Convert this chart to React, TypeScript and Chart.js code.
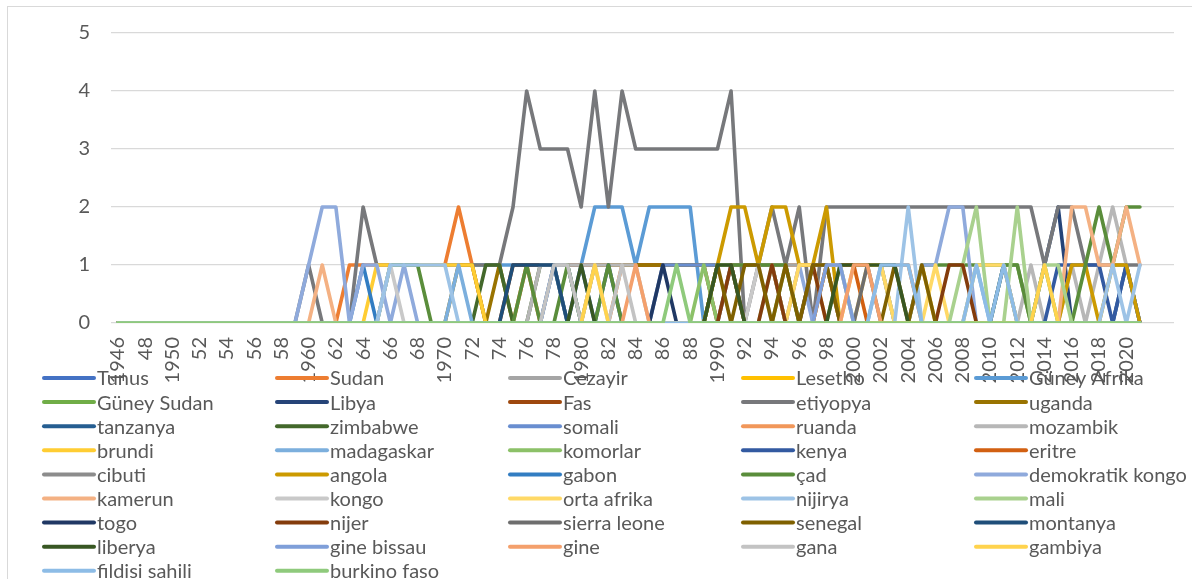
import React, { useEffect, useRef } from 'react';
import { Chart, registerables } from 'chart.js';

Chart.register(...registerables);

// Category labels (1946..2021 plus two empty slots at the end of the axis)
const yearLabels = [
  '1946', '47', '48', '49',
  '1950', '51', '52', '53', '54', '55', '56', '57', '58', '59',
  '1960', '61', '62', '63', '64', '65', '66', '67', '68', '69',
  '1970', '71', '72', '73', '74', '75', '76', '77', '78', '79',
  '1980', '81', '82', '83', '84', '85', '86', '87', '88', '89',
  '1990', '91', '92', '93', '94', '95', '96', '97', '98', '99',
  '2000', '2001', '2002', '2003', '2004', '2005', '2006', '2007', '2008', '2009',
  '2010', '2011', '2012', '2013', '2014', '2015', '2016', '2017', '2018', '2019',
  '2020', '2021', '', '',
];

const yTicks = [0, 1, 2, 3, 4, 5];

// Series values, 1946..2021 (decade groups)
const tunus = [0,0,0,0,0,0,0,0,0,0,0,0,0,0, 0,0,0,0,0,0,0,0,0,0, 0,0,0,0,0,0,0,0,0,0, 1,0,0,0,0,0,0,0,0,0, 0,0,0,0,0,0,0,0,0,0, 0,0,0,0,0,0,0,0,0,0, 0,0,0,0,0,0,0,0,0,0, 0,0];
const sudan = [0,0,0,0,0,0,0,0,0,0,0,0,0,0, 0,0,0,1,1,1,1,1,1,1, 1,2,1,0,0,0,1,0,0,0, 0,0,0,1,1,1,1,1,1,1, 1,1,1,1,1,1,1,1,1,1, 1,1,1,1,1,0,0,0,0,0, 0,0,0,0,0,0,0,0,0,0, 0,0];
const cezayir = [0,0,0,0,0,0,0,0,0,0,0,0,0,0, 0,0,0,0,0,0,0,0,0,0, 0,0,0,0,0,0,0,0,0,0, 0,0,0,0,0,0,0,0,0,0, 0,1,1,1,1,1,1,1,1,1, 1,1,1,0,0,0,0,0,0,0, 0,0,0,0,0,0,0,0,0,0, 0,0];
const lesetho = [0,0,0,0,0,0,0,0,0,0,0,0,0,0, 0,0,0,0,0,0,0,0,0,0, 0,0,0,0,0,0,0,0,0,0, 0,0,0,0,0,0,0,0,0,0, 0,0,0,0,0,0,0,0,1,0, 0,0,0,0,0,0,0,0,0,0, 0,0,0,0,0,0,0,0,0,0, 0,0];
const guneyAfrika = [0,0,0,0,0,0,0,0,0,0,0,0,0,0, 0,0,0,0,0,0,1,1,1,1, 1,1,1,1,1,1,1,1,1,1, 1,2,2,2,1,2,2,2,2,0, 0,0,0,0,0,0,0,0,0,0, 0,0,0,0,0,0,0,0,0,0, 0,0,0,0,0,0,0,0,0,0, 0,0];
const guneySudan = [0,0,0,0,0,0,0,0,0,0,0,0,0,0, 0,0,0,0,0,0,0,0,0,0, 0,0,0,0,0,0,0,0,0,0, 0,0,0,0,0,0,0,0,0,0, 0,0,0,0,0,0,0,0,0,0, 0,0,0,0,0,0,0,0,0,0, 0,1,1,0,1,0,0,0,0,0, 0,0];
const libya = [0,0,0,0,0,0,0,0,0,0,0,0,0,0, 0,0,0,0,0,0,0,0,0,0, 0,0,0,0,0,0,0,0,0,0, 0,0,0,0,0,0,0,0,0,0, 0,0,0,0,0,0,0,0,0,0, 0,0,0,0,0,0,0,0,0,0, 0,1,0,0,1,2,0,0,0,0, 0,0];
const fas = [0,0,0,0,0,0,0,0,0,0,0,0,0,0, 0,0,0,0,0,0,0,0,0,0, 0,0,0,0,0,1,1,1,1,1, 1,1,1,1,1,1,1,1,1,1, 0,0,0,0,0,0,0,0,0,0, 0,0,0,0,0,0,0,0,0,0, 0,0,0,0,0,0,0,0,0,0, 0,0];
const etiyopya = [0,0,0,0,0,0,0,0,0,0,0,0,0,0, 1,0,0,0,2,1,1,1,1,1, 1,1,1,1,1,2,4,3,3,3, 2,4,2,4,3,3,3,3,3,3, 3,4,0,1,2,1,2,0,2,2, 2,2,2,2,2,2,2,2,2,2, 2,2,2,2,1,2,2,1,1,1, 1,1];
const uganda = [0,0,0,0,0,0,0,0,0,0,0,0,0,0, 0,0,0,0,0,0,0,0,0,0, 0,1,1,0,1,0,0,0,0,0, 0,1,1,1,1,1,1,1,1,1, 1,1,0,0,0,0,0,0,0,0, 0,0,0,0,0,0,0,0,0,0, 0,0,0,0,0,0,0,0,0,0, 0,0];
const tanzanya = [0,0,0,0,0,0,0,0,0,0,0,0,0,0, 0,0,0,0,0,0,0,0,0,0, 0,0,0,0,0,0,0,0,1,1, 0,0,0,0,0,0,0,0,0,0, 0,0,0,0,0,0,0,0,0,0, 0,0,0,0,0,0,0,0,0,0, 0,0,0,0,0,0,0,0,0,0, 1,0];
const zimbabwe = [0,0,0,0,0,0,0,0,0,0,0,0,0,0, 0,0,0,0,0,0,0,0,0,0, 0,0,0,1,1,0,0,1,1,0, 0,0,0,0,0,0,0,0,0,0, 0,0,0,0,0,0,0,0,0,0, 0,0,0,0,0,0,0,0,0,0, 0,0,0,0,0,0,0,0,0,0, 0,0];
const somali = [0,0,0,0,0,0,0,0,0,0,0,0,0,0, 0,0,0,0,0,0,0,0,0,0, 0,0,0,0,0,0,0,0,1,0, 0,0,0,0,0,0,1,1,1,1, 1,1,0,0,0,0,0,0,0,0, 0,0,0,0,0,0,0,0,0,0, 0,0,0,0,0,0,0,0,0,0, 0,0];
const ruanda = [0,0,0,0,0,0,0,0,0,0,0,0,0,0, 0,0,0,0,0,0,0,0,0,0, 0,0,0,0,0,0,0,0,0,0, 0,0,0,0,0,0,0,0,0,0, 1,1,1,1,1,0,1,1,1,0, 0,0,0,0,0,0,0,0,0,0, 0,0,0,0,0,0,0,0,0,0, 0,0];
const mozambik = [0,0,0,0,0,0,0,0,0,0,0,0,0,0, 0,0,0,0,0,0,0,0,0,0, 0,0,0,0,0,0,0,1,1,1, 1,1,1,1,1,0,0,0,0,0, 0,0,0,0,0,0,0,0,0,0, 0,0,0,0,0,0,0,0,0,0, 0,0,0,1,0,0,1,0,1,2, 1,0];
const brundi = [0,0,0,0,0,0,0,0,0,0,0,0,0,0, 0,0,0,0,0,1,1,1,1,1, 1,1,1,0,0,0,0,0,0,0, 0,0,0,0,0,0,0,0,0,0, 0,0,0,0,0,0,0,0,0,0, 1,1,1,0,0,1,0,0,0,0, 0,0,0,0,0,0,0,0,0,0, 0,0];
const madagaskar = [0,0,0,0,0,0,0,0,0,0,0,0,0,0, 0,0,0,0,0,0,0,0,0,0, 0,1,0,0,0,0,0,0,0,0, 0,0,0,0,0,0,0,0,0,0, 0,0,0,0,0,0,0,0,0,0, 0,0,1,0,0,0,0,0,0,1, 0,0,0,0,0,0,0,0,0,0, 0,0];
const komorlar = [0,0,0,0,0,0,0,0,0,0,0,0,0,0, 0,0,0,0,0,0,0,0,0,0, 0,0,0,0,0,0,0,0,0,0, 0,0,0,0,0,0,0,0,0,1, 0,0,0,0,0,1,0,0,0,1, 0,0,0,0,0,0,0,0,0,0, 0,0,0,0,0,0,0,0,0,0, 0,0];
const kenya = [0,0,0,0,0,0,0,0,0,0,0,0,0,0, 0,0,0,0,0,0,0,0,0,0, 0,0,0,0,0,0,0,0,0,0, 0,0,1,0,0,0,0,0,0,0, 0,0,0,0,0,0,0,0,0,0, 0,0,0,0,0,0,0,0,0,0, 0,0,0,0,0,1,1,1,1,0, 1,0];
const eritre = [0,0,0,0,0,0,0,0,0,0,0,0,0,0, 0,0,0,0,0,0,0,0,0,0, 0,0,0,0,0,0,0,0,0,0, 0,0,0,0,0,0,0,0,0,0, 0,0,0,0,0,0,0,0,1,1, 1,0,0,0,0,0,0,0,0,0, 0,0,0,0,0,0,0,0,0,0, 0,0];
const cibuti = [0,0,0,0,0,0,0,0,0,0,0,0,0,0, 0,0,0,0,0,0,0,0,0,0, 0,0,0,0,0,0,0,0,0,0, 0,0,0,0,0,0,0,0,0,0, 0,1,1,1,1,0,0,0,0,0, 0,0,0,0,0,0,0,0,0,0, 0,0,0,0,0,0,0,0,0,0, 0,0];
const angola = [0,0,0,0,0,0,0,0,0,0,0,0,0,0, 0,0,0,0,0,0,0,0,0,0, 0,0,0,0,0,0,0,0,0,0, 0,0,0,0,0,0,0,0,0,0, 1,2,2,1,2,2,1,1,2,0, 0,0,0,0,0,0,0,0,0,0, 0,0,0,0,0,0,1,1,0,1, 1,0];
const gabon = [0,0,0,0,0,0,0,0,0,0,0,0,0,0, 0,0,0,0,1,0,0,0,0,0, 0,0,0,0,0,0,0,0,0,0, 0,0,0,0,0,0,0,0,0,0, 0,0,0,0,0,0,0,0,0,0, 0,0,0,0,0,0,0,0,0,0, 0,0,0,0,0,0,0,0,0,0, 0,0];
const cad = [0,0,0,0,0,0,0,0,0,0,0,0,0,0, 0,0,0,0,0,0,1,1,1,0, 0,0,0,0,0,0,1,0,0,1, 0,0,1,0,0,0,0,0,0,0, 1,1,1,1,1,1,0,0,0,0, 0,0,0,0,0,1,1,1,1,1, 1,1,1,0,0,0,0,1,2,1, 2,2];
const demKongo = [0,0,0,0,0,0,0,0,0,0,0,0,0,0, 1,2,2,0,1,1,0,1,0,0, 0,0,0,0,0,0,0,0,0,0, 0,0,0,0,0,0,0,0,0,0, 0,0,0,0,0,0,1,0,0,0, 0,0,0,0,0,1,1,2,2,0, 0,0,0,0,0,0,0,0,0,0, 0,0];
const kamerun = [0,0,0,0,0,0,0,0,0,0,0,0,0,0, 0,1,0,0,0,0,0,0,0,0, 0,0,0,0,0,0,0,0,0,0, 0,0,0,0,0,0,0,0,0,0, 0,0,0,0,0,0,0,0,0,0, 0,0,0,0,0,0,0,0,0,0, 0,0,0,0,0,0,2,2,1,1, 2,1];
const kongo = [0,0,0,0,0,0,0,0,0,0,0,0,0,0, 0,0,0,0,0,0,1,0,0,0, 0,0,0,0,0,0,0,0,0,0, 0,0,0,0,0,0,0,0,0,0, 0,0,0,1,0,0,0,1,1,1, 0,0,0,0,0,0,0,0,0,0, 0,0,0,0,0,0,0,0,0,0, 0,0];
const ortaAfrika = [0,0,0,0,0,0,0,0,0,0,0,0,0,0, 0,0,0,0,0,0,0,0,0,0, 0,0,0,0,0,0,0,0,0,0, 0,0,0,0,0,0,0,0,0,0, 0,0,0,0,0,0,1,1,0,0, 0,1,1,0,0,0,1,0,0,1, 1,1,0,0,0,0,0,0,0,0, 0,0];
const nijirya = [0,0,0,0,0,0,0,0,0,0,0,0,0,0, 0,0,0,0,0,0,1,1,1,1, 1,0,0,0,0,0,0,0,0,0, 0,0,0,0,0,0,0,0,0,0, 0,0,0,0,0,0,0,0,0,0, 0,0,0,0,2,0,0,0,0,0, 0,0,0,0,0,0,0,0,0,1, 0,1];
const mali = [0,0,0,0,0,0,0,0,0,0,0,0,0,0, 0,0,0,0,0,0,0,0,0,0, 0,0,0,0,0,0,0,0,0,0, 0,0,0,0,0,0,0,0,0,0, 1,1,0,0,1,0,0,0,0,0, 0,0,0,0,0,0,0,0,1,2, 0,0,2,0,1,1,0,0,0,0, 0,0];
const togo = [0,0,0,0,0,0,0,0,0,0,0,0,0,0, 0,0,0,0,0,0,0,0,0,0, 0,0,0,0,0,0,0,0,0,0, 0,0,0,0,0,0,1,0,0,0, 0,0,0,0,0,0,0,0,0,0, 0,0,0,0,0,0,0,0,0,0, 0,0,0,0,0,0,0,0,0,0, 0,0];
const nijer = [0,0,0,0,0,0,0,0,0,0,0,0,0,0, 0,0,0,0,0,0,0,0,0,0, 0,0,0,0,0,0,0,0,0,0, 0,0,0,0,0,0,0,0,0,0, 0,1,0,0,1,0,0,1,0,0, 0,0,0,0,0,0,0,1,1,0, 0,0,0,0,0,0,0,0,0,0, 0,0];
const sierraLeone = [0,0,0,0,0,0,0,0,0,0,0,0,0,0, 0,0,0,0,0,0,0,0,0,0, 0,0,0,0,0,0,0,0,0,0, 0,0,0,0,0,0,0,0,0,0, 0,0,0,0,0,0,0,1,1,0, 0,1,0,0,0,0,0,0,0,0, 0,0,0,0,0,0,0,0,0,0, 0,0];
const senegal = [0,0,0,0,0,0,0,0,0,0,0,0,0,0, 0,0,0,0,0,0,0,0,0,0, 0,0,0,0,0,0,0,0,0,0, 0,0,0,0,0,0,0,0,0,0, 1,0,1,1,0,1,0,1,1,0, 0,0,0,1,0,1,0,0,0,0, 0,0,0,0,0,0,0,0,0,0, 0,0];
const montanya = [0,0,0,0,0,0,0,0,0,0,0,0,0,0, 0,0,0,0,0,0,0,0,0,0, 0,0,0,0,0,1,1,1,1,0, 0,0,0,0,0,0,0,0,0,0, 0,0,0,0,0,0,0,0,0,0, 0,0,0,0,0,0,0,0,0,0, 0,0,0,0,0,0,0,0,0,0, 0,0];
const liberya = [0,0,0,0,0,0,0,0,0,0,0,0,0,0, 0,0,0,0,0,0,0,0,0,0, 0,0,0,0,0,0,0,0,0,0, 1,0,0,0,0,0,0,0,0,0, 1,1,0,0,0,0,0,0,0,1, 1,1,1,1,0,0,0,0,0,0, 0,0,0,0,0,0,0,0,0,0, 0,0];
const gineBissau = [0,0,0,0,0,0,0,0,0,0,0,0,0,0, 0,0,0,0,0,0,0,0,0,0, 0,0,0,0,0,0,0,0,0,0, 0,0,0,0,0,0,0,0,0,0, 0,0,0,0,0,0,0,0,1,1, 0,0,0,0,0,0,0,0,0,0, 0,0,0,0,0,0,0,0,0,0, 0,0];
const gine = [0,0,0,0,0,0,0,0,0,0,0,0,0,0, 0,0,0,0,0,0,0,0,0,0, 0,0,0,0,0,0,0,0,0,0, 0,0,0,0,1,0,0,0,0,0, 0,0,0,0,0,0,0,0,0,0, 1,1,0,0,0,0,0,0,0,0, 0,0,0,0,0,0,0,0,0,0, 0,0];
const gana = [0,0,0,0,0,0,0,0,0,0,0,0,0,0, 0,0,0,0,0,0,0,0,0,0, 0,0,0,0,0,0,0,0,1,1, 0,1,0,1,0,0,0,0,0,0, 0,0,0,0,0,0,0,0,0,0, 0,0,0,0,0,0,0,0,0,0, 0,0,0,0,0,0,0,0,0,0, 0,0];
const gambiya = [0,0,0,0,0,0,0,0,0,0,0,0,0,0, 0,0,0,0,0,0,0,0,0,0, 0,0,0,0,0,0,0,0,0,0, 0,1,0,0,0,0,0,0,0,0, 0,0,0,0,0,0,0,0,0,0, 0,0,0,0,0,0,0,0,0,0, 0,0,0,0,1,0,0,0,0,0, 0,0];
const fildisiSahili = [0,0,0,0,0,0,0,0,0,0,0,0,0,0, 0,0,0,0,0,0,0,0,0,0, 0,0,0,0,0,0,0,0,0,0, 0,0,0,0,0,0,0,0,0,0, 0,0,0,0,0,0,0,0,0,0, 0,0,1,1,1,0,0,0,0,1, 0,1,0,0,0,0,0,0,0,0, 0,0];
const burkinoFaso = [0,0,0,0,0,0,0,0,0,0,0,0,0,0, 0,0,0,0,0,0,0,0,0,0, 0,0,0,0,0,0,0,0,0,0, 0,0,0,0,0,0,0,1,0,0, 0,0,0,0,0,0,0,0,0,0, 0,0,0,0,0,0,0,0,0,0, 0,0,0,0,0,0,0,0,0,0, 0,0];

const seriesNames = [
  'Tunus', 'Sudan', 'Cezayir', 'Lesetho', 'Güney Afrika',
  'Güney Sudan', 'Libya', 'Fas', 'etiyopya', 'uganda',
  'tanzanya', 'zimbabwe', 'somali', 'ruanda', 'mozambik',
  'brundi', 'madagaskar', 'komorlar', 'kenya', 'eritre',
  'cibuti', 'angola', 'gabon', 'çad', 'demokratik kongo',
  'kamerun', 'kongo', 'orta afrika', 'nijirya', 'mali',
  'togo', 'nijer', 'sierra leone', 'senegal', 'montanya',
  'liberya', 'gine bissau', 'gine', 'gana', 'gambiya',
  'fildisi sahili', 'burkino faso',
];

const seriesValues = [
  tunus, sudan, cezayir, lesetho, guneyAfrika,
  guneySudan, libya, fas, etiyopya, uganda,
  tanzanya, zimbabwe, somali, ruanda, mozambik,
  brundi, madagaskar, komorlar, kenya, eritre,
  cibuti, angola, gabon, cad, demKongo,
  kamerun, kongo, ortaAfrika, nijirya, mali,
  togo, nijer, sierraLeone, senegal, montanya,
  liberya, gineBissau, gine, gana, gambiya,
  fildisiSahili, burkinoFaso,
];

const seriesColors = [
  '#4472C4', '#ED7D31', '#A5A5A5', '#FFC000', '#5B9BD5',
  '#70AD47', '#264478', '#9E480E', '#77787B', '#997300',
  '#255E91', '#43682B', '#698ED0', '#F1975A', '#B7B7B7',
  '#FFCD33', '#7CAFDD', '#8CC168', '#335AA1', '#D26012',
  '#8C8C8C', '#CC9A00', '#327DC2', '#5A8D3B', '#8FAADC',
  '#F4B183', '#C9C9C9', '#FFD966', '#9DC3E6', '#A9D18E',
  '#203864', '#843C0C', '#6E6E6E', '#7F6000', '#1F4E79',
  '#385723', '#7F9FD9', '#F4A06C', '#C3C3C3', '#FFD34D',
  '#8DBCE6', '#8FCA7C',
];

const FONT = 'Lato, "Open Sans", sans-serif';
const TEXT = '#595959';

const framePlugin = {
  id: 'excelFrame',
  beforeDraw(chart: any) {
    const ctx = chart.ctx;
    ctx.save();
    ctx.fillStyle = '#ffffff';
    ctx.fillRect(0, 0, chart.width, chart.height);
    ctx.strokeStyle = '#D9D9D9';
    ctx.lineWidth = 1;
    ctx.strokeRect(7.5, 6.5, 1400, 900);
    ctx.restore();
  },
  afterDraw(chart: any) {
    const ctx = chart.ctx;
    ctx.save();
    ctx.font = `20px ${FONT}`;
    ctx.textBaseline = 'middle';
    ctx.textAlign = 'left';
    ctx.lineCap = 'round';
    seriesNames.forEach((name, i) => {
      const col = i % 5;
      const row = Math.floor(i / 5);
      const x0 = 44 + col * 233;
      const y = 378 + row * 24.1;
      ctx.strokeStyle = seriesColors[i];
      ctx.lineWidth = 4;
      ctx.beginPath();
      ctx.moveTo(x0, y);
      ctx.lineTo(x0 + 50, y);
      ctx.stroke();
      ctx.fillStyle = TEXT;
      ctx.fillText(name, x0 + 53, y + 1);
    });
    ctx.restore();
  },
};

export default function App() {
  const canvasRef = useRef<HTMLCanvasElement | null>(null);

  useEffect(() => {
    const canvas = canvasRef.current;
    if (!canvas) return;
    const n = seriesNames.length;
    const chart = new Chart(canvas, {
      type: 'line',
      data: {
        labels: yearLabels,
        datasets: seriesNames.map((name, i) => ({
          label: name,
          data: seriesValues[i],
          borderColor: seriesColors[i],
          backgroundColor: seriesColors[i],
          borderWidth: 3.6,
          pointRadius: 0,
          pointHoverRadius: 0,
          tension: 0,
          fill: false,
          borderCapStyle: 'round',
          borderJoinStyle: 'round',
          order: n - i,
        })),
      },
      options: {
        responsive: false,
        animation: false,
        devicePixelRatio: 1,
        layout: { padding: { left: 0, right: 18, top: 31, bottom: 0 } },
        plugins: {
          legend: { display: false },
          tooltip: { enabled: false },
          title: { display: false },
        },
        scales: {
          x: {
            type: 'category',
            offset: true,
            grid: { display: false, drawTicks: false },
            border: { display: false },
            ticks: {
              autoSkip: false,
              minRotation: 90,
              maxRotation: 90,
              padding: 14,
              color: TEXT,
              font: { family: FONT, size: 20 },
              callback: (_v: any, i: number) => (i % 2 === 0 ? yearLabels[i] : ''),
            },
            afterFit: (s: any) => {
              s.height = 256;
              s.paddingLeft = 0;
              s.paddingRight = 0;
            },
          },
          y: {
            min: yTicks[0],
            max: yTicks[yTicks.length - 1],
            ticks: {
              stepSize: 1,
              padding: 21,
              color: TEXT,
              font: { family: FONT, size: 20 },
            },
            grid: { color: '#D9D9D9', lineWidth: 1.3, drawTicks: false },
            border: { display: false },
            afterFit: (s: any) => {
              s.width = 111;
            },
          },
        },
      },
      plugins: [framePlugin],
    });
    return () => chart.destroy();
  }, []);

  return (
    <div style={{ position: 'fixed', left: 0, top: 0, width: 1192, height: 579, background: '#fff' }}>
      <canvas ref={canvasRef} width={1192} height={579} style={{ width: 1192, height: 579, display: 'block' }} />
    </div>
  );
}
